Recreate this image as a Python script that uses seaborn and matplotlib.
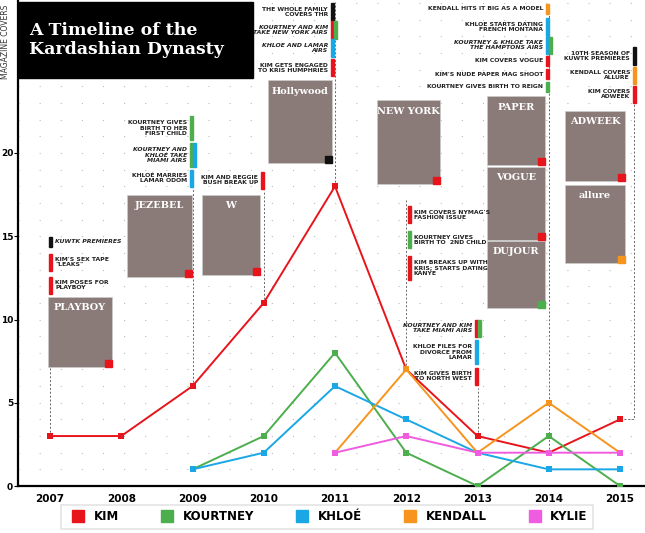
import matplotlib
matplotlib.use("Agg")
import matplotlib.pyplot as plt
from matplotlib.patches import Rectangle
import seaborn as sns
import pandas as pd

years = [2007, 2008, 2009, 2010, 2011, 2012, 2013, 2014, 2015]
kim = [3, 3, 6, 11, 18, 7, 3, 2, 4]
kourtney = [None, None, 1, 3, 8, 2, 0, 3, 0]
khloe = [None, None, 1, 2, 6, 4, 2, 1, 1]
kendall = [None, None, None, None, 2, 7, 2, 5, 2]
kylie = [None, None, None, None, 2, 3, 2, 2, 2]
names = ["KIM", "KOURTNEY", "KHLOÉ", "KENDALL", "KYLIE"]
colors = ["#e8141b", "#4cae4c", "#1aa7e6", "#f7941d", "#f05ce0"]

rows = []
for n, s in zip(names, [kim, kourtney, khloe, kendall, kylie]):
    for y, v in zip(years, s):
        if v is not None:
            rows.append((n, y, v))
df = pd.DataFrame(rows, columns=["who", "year", "covers"])

W, H = 645, 533
fig = plt.figure(figsize=(W / 100, H / 100), dpi=100)
AX0 = 18
ax = fig.add_axes([AX0 / W, 47 / H, (645 - AX0) / W, 486 / H])

def X(px):
    return 2007 + (px - 50) / 71.25
def Y(py):
    return (486 - py) / 16.65

ax.set_xlim(X(AX0), X(645))
ax.set_ylim(0, Y(0))

for yy in range(1, 30):
    ax.axhline(yy, color="#bbbbbb", lw=0.8, ls=(0, (1, 18)), zorder=0)

FN = "DejaVu Sans"
pal = dict(zip(names, colors))

cl = dict(color="#666666", lw=0.7, ls=(0, (2, 2)), zorder=1, clip_on=False)
ax.plot([2007, 2007], [3, Y(367)], **cl)
ax.plot([2009, 2009], [6, Y(185)], **cl)
ax.plot([2010, 2010], [11, Y(190)], **cl)
ax.plot([2011, 2011], [18, Y(2)], **cl)
ax.plot([2012, 2012], [7, Y(200)], **cl)
ax.plot([2013, 2013], [3, Y(388)], **cl)
ax.plot([2014, 2014], [2, Y(2)], **cl)
ax.plot([2015, X(634), X(634)], [4, 4, Y(100)], **cl)

sns.lineplot(data=df, x="year", y="covers", hue="who", palette=pal,
             marker="s", markersize=5, markeredgewidth=0, lw=1.4,
             legend=False, ax=ax, zorder=3)

ax.set_xticks(years)
ax.set_xticklabels([str(y) for y in years], fontfamily=FN, fontweight="bold", fontsize=7.5)
ax.set_yticks([0, 5, 10, 15, 20])
ax.set_yticklabels(["0", "5", "10", "15", "20"], fontfamily=FN, fontweight="bold", fontsize=6.5)
ax.tick_params(axis="x", length=0, pad=6)
ax.tick_params(axis="y", length=3, direction="out", pad=0.5)
for s in ["top", "right"]:
    ax.spines[s].set_visible(False)
ax.spines["bottom"].set_linewidth(1.6)
ax.spines["left"].set_linewidth(1.6)
ax.set_xlabel("")
ax.set_ylabel("")

def fx(px):
    return px / W
def fy(py):
    return 1 - py / H

def note(px, py, txt, cols, side="left", italic=False):
    n = txt.count("\n") + 1
    h = 7.5 * n + 2
    kw = dict(va="center", fontsize=4.4, fontfamily=FN, fontweight="bold",
              style="italic" if italic else "normal", color="#222222", linespacing=1.15)
    if side == "left":
        fig.text(fx(px), fy(py), txt, ha="right", **kw)
        bx = px + 3
    else:
        fig.text(fx(px), fy(py), txt, ha="left", **kw)
        bx = px - 6
    for i, c in enumerate(cols):
        fig.patches.append(Rectangle((fx(bx + 3 * i), fy(py + h / 2)), 3 / W, h / H,
                                     transform=fig.transFigure, color=c, figure=fig))

def cover(x0, y0, x1, y1, label, c):
    fig.patches.append(Rectangle((fx(x0), fy(y1)), (x1 - x0) / W, (y1 - y0) / H,
                                 transform=fig.transFigure, facecolor="#8a7a78",
                                 edgecolor="#cccccc", lw=0.5, figure=fig, zorder=2))
    fig.text(fx((x0 + x1) / 2), fy(y0 + 11), label, ha="center", va="center",
             fontsize=7, color="white", fontfamily="DejaVu Serif", fontweight="bold")
    fig.patches.append(Rectangle((fx(x1 - 7), fy(y1)), 7 / W, 7 / H,
                                 transform=fig.transFigure, color=c, figure=fig, zorder=3))

R, G, B, O, K = colors[0], colors[1], colors[2], colors[3], "#111111"

note(55, 242, "KUWTK PREMIERES", [K], side="right", italic=True)
note(55, 262, "KIM'S SEX TAPE\n\"LEAKS\"", [R], side="right")
note(55, 285, "KIM POSES FOR\nPLAYBOY", [R], side="right")
cover(48, 297, 112, 367, "PLAYBOY", R)

note(187, 128, "KOURTNEY GIVES\nBIRTH TO HER\nFIRST CHILD", [G])
note(187, 155, "KOURTNEY AND\nKHLOÉ TAKE\nMIAMI AIRS", [G, B], italic=True)
note(187, 178, "KHLOÉ MARRIES\nLAMAR ODOM", [B])
cover(127, 195, 192, 277, "JEZEBEL", R)

note(258, 180, "KIM AND REGGIE\nBUSH BREAK UP", [R])
cover(202, 195, 260, 275, "W", R)

note(328, 12, "THE WHOLE FAMILY\nCOVERS THR", [K])
note(328, 30, "KOURTNEY AND KIM\nTAKE NEW YORK AIRS", [R, G], italic=True)
note(328, 48, "KHLOE AND LAMAR\nAIRS", [B], italic=True)
note(328, 68, "KIM GETS ENGAGED\nTO KRIS HUMPHRIES", [R])
cover(268, 80, 332, 163, "Hollywood", K)

cover(377, 100, 440, 184, "NEW YORK", R)
note(414, 215, "KIM COVERS NYMAG'S\nFASHION ISSUE", [R], side="right")
note(414, 240, "KOURTNEY GIVES\nBIRTH TO  2ND CHILD", [G], side="right")
note(414, 268, "KIM BREAKS UP WITH\nKRIS; STARTS DATING\nKANYE", [R], side="right")

note(472, 328, "KOURTNEY AND KIM\nTAKE MIAMI AIRS", [R, G], italic=True)
note(472, 352, "KHLOE FILES FOR\nDIVORCE FROM\nLAMAR", [B])
note(472, 376, "KIM GIVES BIRTH\nTO NORTH WEST", [R])

note(543, 9, "KENDALL HITS IT BIG AS A MODEL", [O])
note(543, 27, "KHLOE STARTS DATING\nFRENCH MONTANA", [B])
note(543, 45, "KOURTNEY & KHLOE TAKE\nTHE HAMPTONS AIRS", [B, G], italic=True)
note(543, 61, "KIM COVERS VOGUE", [R])
note(543, 74, "KIM'S NUDE PAPER MAG SHOOT", [R])
note(543, 87, "KOURTNEY GIVES BIRTH TO REIGN", [G])
cover(487, 96, 545, 165, "PAPER", R)
cover(487, 167, 545, 240, "VOGUE", R)
cover(487, 241, 545, 308, "DUJOUR", G)

note(630, 56, "10TH SEASON OF\nKUWTK PREMIERES", [K])
note(630, 75, "KENDALL COVERS\nALLURE", [O])
note(630, 94, "KIM COVERS\nADWEEK", [R])
cover(565, 111, 625, 181, "ADWEEK", R)
cover(565, 185, 625, 263, "allure", O)

fig.patches.append(Rectangle((fx(AX0), fy(78)), 235 / W, 76 / H, transform=fig.transFigure,
                             color="black", figure=fig, zorder=5))
fig.text(fx(29), fy(40), "A Timeline of the\nKardashian Dynasty", ha="left", va="center",
         fontsize=12.5, color="white", fontfamily="DejaVu Serif", fontweight="bold",
         linespacing=1.1, zorder=6)

fig.text(fx(6), fy(5), "MAGAZINE COVERS", rotation=90, ha="center", va="top",
         fontsize=5.5, fontfamily="DejaVu Sans", color="#333333")

handles = [plt.Line2D([], [], marker="s", ls="", color=c, markersize=8) for c in colors]
leg = fig.legend(handles, names, loc="center", bbox_to_anchor=(fx(327), fy(517)),
                 ncol=5, frameon=True, fancybox=False, edgecolor="#dddddd",
                 columnspacing=3.1, handletextpad=0.3, borderpad=0.45,
                 prop=dict(family=FN, weight="bold", size=8.5))
leg.get_frame().set_linewidth(1.2)

fig.savefig("out.png", dpi=100)
